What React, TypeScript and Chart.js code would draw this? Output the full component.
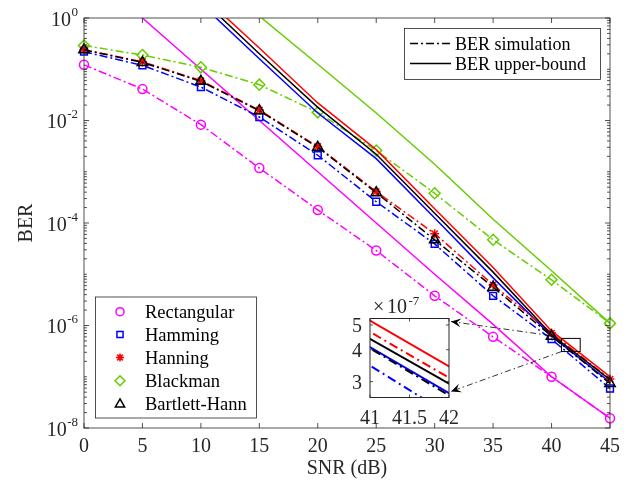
import React, { useEffect, useRef } from 'react';
import { Chart, registerables } from 'chart.js';

Chart.register(...registerables);

// ---------------- data ----------------
const snr = [0, 5, 10, 15, 20, 25, 30, 35, 40, 45];

const rectSim = [0.122, 0.041, 0.0083, 0.00118, 1.8e-4, 2.9e-5, 3.8e-6, 6.0e-7, 1.0e-7, 1.55e-8];
const rectBound = [10, 1.0, 0.1, 0.01, 1.0e-3, 1.0e-4, 1.0e-5, 1.05e-6, 1.0e-7, 1.55e-8];

const hammSim = [0.22, 0.119, 0.045, 0.0117, 0.0021, 2.6e-4, 3.9e-5, 3.8e-6, 5.4e-7, 5.9e-8];
const hammBound = [1000, 40, 1.9, 0.16, 0.014, 1.8e-3, 1.25e-4, 8.5e-6, 6.2e-7, 7.8e-8];

const hannSim = [0.24, 0.14, 0.06, 0.016, 0.0031, 4.1e-4, 6.2e-5, 6.2e-6, 7.1e-7, 9.0e-8];
const hannBound = [1500, 60, 2.9, 0.26, 0.022, 2.7e-3, 1.9e-4, 1.35e-5, 7.85e-7, 1.0e-7];

const blackSim = [0.29, 0.19, 0.109, 0.05, 0.0144, 0.0026, 3.8e-4, 4.7e-5, 7.8e-6, 1.1e-6];
const blackBound = [10000, 1000, 11, 1.09, 0.125, 0.014, 1.4e-3, 1.18e-4, 1.17e-5, 1.1e-6];

const bhSim = [0.24, 0.136, 0.058, 0.0155, 0.003, 3.9e-4, 4.7e-5, 5.6e-6, 6.2e-7, 7.4e-8];
const bhBound = [1200, 50, 2.4, 0.2, 0.018, 2.2e-3, 1.55e-4, 1.1e-5, 6.6e-7, 8.8e-8];

const xTicks = [0, 5, 10, 15, 20, 25, 30, 35, 40, 45];
const yTickExps = [0, -2, -4, -6, -8];
const insetXTicks = [41, 41.5, 42];
const insetXLabels = ['41', '41.5', '42'];
const insetYTicks = [3, 4, 5];
const insetExp = -7;

const windowNames = ['Rectangular', 'Hamming', 'Hanning', 'Blackman', 'Bartlett-Hann'];
const styleNames = ['BER simulation', 'BER upper-bound'];

// ---------------- styles ----------------
const FONT = "'Liberation Serif', 'Times New Roman', serif";
const AX = '#262626';
const DASHDOT = [8, 3, 2, 3];

type Win = { name: string; sim: number[]; bound: number[]; color: string; marker: string; r: number };
const windows: Win[] = [
  { name: windowNames[0], sim: rectSim, bound: rectBound, color: '#FF00FF', marker: 'circle', r: 4.5 },
  { name: windowNames[1], sim: hammSim, bound: hammBound, color: '#0000FF', marker: 'rect', r: 4.8 },
  { name: windowNames[2], sim: hannSim, bound: hannBound, color: '#FF0000', marker: 'star', r: 4.5 },
  { name: windowNames[3], sim: blackSim, bound: blackBound, color: '#66CC00', marker: 'rectRot', r: 5.5 },
  { name: windowNames[4], sim: bhSim, bound: bhBound, color: '#000000', marker: 'triangle', r: 6 },
];

const toPts = (ys: number[]) => ys.map((y, i) => ({ x: snr[i], y }));

function drawMarker(ctx: CanvasRenderingContext2D, style: string, x: number, y: number, r: number, color: string) {
  ctx.save();
  ctx.strokeStyle = color;
  ctx.lineWidth = 1.5;
  ctx.setLineDash([]);
  ctx.beginPath();
  if (style === 'circle') {
    ctx.arc(x, y, r, 0, Math.PI * 2);
  } else if (style === 'rect') {
    const s = r * Math.SQRT1_2;
    ctx.rect(x - s, y - s, 2 * s, 2 * s);
  } else if (style === 'star') {
    for (let i = 0; i < 4; i++) {
      const a = (i * Math.PI) / 4;
      ctx.moveTo(x - Math.cos(a) * r, y - Math.sin(a) * r);
      ctx.lineTo(x + Math.cos(a) * r, y + Math.sin(a) * r);
    }
  } else if (style === 'rectRot') {
    ctx.moveTo(x, y - r);
    ctx.lineTo(x + r, y);
    ctx.lineTo(x, y + r);
    ctx.lineTo(x - r, y);
    ctx.closePath();
  } else if (style === 'triangle') {
    ctx.moveTo(x, y - r);
    ctx.lineTo(x + 0.866 * r, y + 0.5 * r);
    ctx.lineTo(x - 0.866 * r, y + 0.5 * r);
    ctx.closePath();
  }
  ctx.stroke();
  ctx.restore();
}

function drawArrow(ctx: CanvasRenderingContext2D, x0: number, y0: number, x1: number, y1: number) {
  ctx.save();
  ctx.strokeStyle = '#000';
  ctx.fillStyle = '#000';
  ctx.lineWidth = 0.8;
  ctx.setLineDash([6, 3, 1.5, 3]);
  ctx.beginPath();
  ctx.moveTo(x0, y0);
  ctx.lineTo(x1, y1);
  ctx.stroke();
  ctx.setLineDash([]);
  const ang = Math.atan2(y1 - y0, x1 - x0);
  const L = 10, W = 4.5;
  const bx = x1 - Math.cos(ang) * L, by = y1 - Math.sin(ang) * L;
  const nx = -Math.sin(ang), ny = Math.cos(ang);
  const mx = x1 - Math.cos(ang) * L * 0.6, my = y1 - Math.sin(ang) * L * 0.6;
  ctx.beginPath();
  ctx.moveTo(x1, y1);
  ctx.lineTo(bx + nx * W, by + ny * W);
  ctx.lineTo(mx, my);
  ctx.lineTo(bx - nx * W, by - ny * W);
  ctx.closePath();
  ctx.fill();
  ctx.restore();
}

// Inset placement (page pixels)
const INSET_CANVAS = { left: 330, top: 285, width: 140, height: 145 };
const INSET_BOX = { left: 370, top: 318.5, right: 449, bottom: 397.5 };

const mainDeco = {
  id: 'mainDeco',
  afterDraw(chart: any) {
    const { ctx, chartArea: a, scales } = chart;
    const xs = scales.x, ys = scales.y;
    ctx.save();
    ctx.setLineDash([]);
    // ticks
    ctx.strokeStyle = AX;
    ctx.lineWidth = 0.8;
    ctx.beginPath();
    for (const t of xTicks) {
      const px = xs.getPixelForValue(t);
      ctx.moveTo(px, a.bottom); ctx.lineTo(px, a.bottom - 5);
      ctx.moveTo(px, a.top); ctx.lineTo(px, a.top + 5);
    }
    for (let k = -8; k <= 0; k++) {
      for (let m = 1; m <= 9; m++) {
        if (k === 0 && m > 1) break;
        const v = m * Math.pow(10, k);
        const py = ys.getPixelForValue(v);
        const major = m === 1 && k % 2 === 0;
        const len = major ? 5 : 3;
        ctx.moveTo(a.left, py); ctx.lineTo(a.left + len, py);
        ctx.moveTo(a.right, py); ctx.lineTo(a.right - len, py);
      }
    }
    ctx.stroke();
    ctx.strokeRect(a.left, a.top, a.right - a.left, a.bottom - a.top);

    // x tick labels
    ctx.fillStyle = AX;
    ctx.font = `20px ${FONT}`;
    ctx.textAlign = 'center';
    ctx.textBaseline = 'alphabetic';
    for (const t of xTicks) ctx.fillText(String(t), xs.getPixelForValue(t), 452);

    // y tick labels 10^k
    for (const e of yTickExps) {
      const py = ys.getPixelForValue(Math.pow(10, e));
      const expStr = String(e);
      ctx.font = `13px ${FONT}`;
      const ew = ctx.measureText(expStr).width;
      const right = 78;
      ctx.textAlign = 'left';
      ctx.fillText(expStr, right - ew, py - 2.5);
      ctx.font = `20px ${FONT}`;
      ctx.textAlign = 'right';
      ctx.fillText('10', right - ew - 0.5, py + 7.5);
    }

    // axis titles
    ctx.font = `20px ${FONT}`;
    ctx.textAlign = 'center';
    ctx.fillText('SNR (dB)', (a.left + a.right) / 2, 474);
    ctx.save();
    ctx.translate(27, (a.top + a.bottom) / 2);
    ctx.rotate(-Math.PI / 2);
    ctx.textBaseline = 'middle';
    ctx.fillText('BER', 0, 0);
    ctx.restore();

    // zoom rectangle and arrows
    const rx0 = xs.getPixelForValue(40.85), rx1 = xs.getPixelForValue(42.45);
    const ry0 = ys.getPixelForValue(5.6e-7), ry1 = ys.getPixelForValue(3.1e-7);
    ctx.strokeStyle = '#000';
    ctx.lineWidth = 1;
    ctx.strokeRect(rx0, ry0, rx1 - rx0, ry1 - ry0);
    drawArrow(ctx, rx0 - 12, ry0 - 3, INSET_BOX.right + 2, INSET_BOX.top + 3);
    drawArrow(ctx, rx0, ry1, INSET_BOX.right + 2, INSET_BOX.bottom - 6);

    // legend 1 (line styles)
    ctx.fillStyle = '#fff';
    ctx.fillRect(404.5, 28.5, 196, 51);
    ctx.strokeStyle = AX;
    ctx.lineWidth = 0.8;
    ctx.strokeRect(404.5, 28.5, 196, 51);
    const rows1 = [43.5, 63.5];
    ctx.font = `18px ${FONT}`;
    ctx.textAlign = 'left';
    ctx.fillStyle = '#000';
    rows1.forEach((yy, i) => {
      ctx.strokeStyle = '#000';
      ctx.lineWidth = 1.5;
      ctx.setLineDash(i === 0 ? DASHDOT : []);
      ctx.beginPath();
      ctx.moveTo(410, yy);
      ctx.lineTo(451, yy);
      ctx.stroke();
      ctx.setLineDash([]);
      ctx.fillText(styleNames[i], 455, yy + 6);
    });

    // legend 2 (markers)
    ctx.fillStyle = '#fff';
    ctx.fillRect(95.5, 297, 161, 121);
    ctx.strokeStyle = AX;
    ctx.lineWidth = 0.8;
    ctx.strokeRect(95.5, 297, 161, 121);
    const rows2 = [311.7, 334.5, 357.5, 380.8, 404.3];
    ctx.font = `18.5px ${FONT}`;
    windows.forEach((w, i) => {
      drawMarker(ctx, w.marker, 120, rows2[i], w.r * 0.9, w.color);
      ctx.fillStyle = '#000';
      ctx.fillText(w.name, 145, rows2[i] + 6);
    });
    ctx.restore();
  },
};

const insetDeco = {
  id: 'insetDeco',
  beforeDatasetsDraw(chart: any) {
    const { ctx, chartArea: a } = chart;
    ctx.save();
    ctx.fillStyle = '#fff';
    ctx.fillRect(a.left, a.top, a.right - a.left, a.bottom - a.top);
    ctx.restore();
  },
  afterDraw(chart: any) {
    const { ctx, chartArea: a, scales } = chart;
    const xs = scales.x, ys = scales.y;
    ctx.save();
    ctx.setLineDash([]);
    ctx.strokeStyle = AX;
    ctx.lineWidth = 0.8;
    ctx.beginPath();
    for (const t of insetXTicks) {
      const px = xs.getPixelForValue(t);
      ctx.moveTo(px, a.bottom); ctx.lineTo(px, a.bottom - 3);
      ctx.moveTo(px, a.top); ctx.lineTo(px, a.top + 3);
    }
    for (const t of insetYTicks) {
      const py = ys.getPixelForValue(t * Math.pow(10, insetExp));
      ctx.moveTo(a.left, py); ctx.lineTo(a.left + 3, py);
      ctx.moveTo(a.right, py); ctx.lineTo(a.right - 3, py);
    }
    ctx.stroke();
    ctx.lineWidth = 1;
    ctx.strokeRect(a.left, a.top, a.right - a.left, a.bottom - a.top);

    ctx.fillStyle = AX;
    ctx.font = `20px ${FONT}`;
    ctx.textAlign = 'right';
    for (const t of insetYTicks) {
      const py = ys.getPixelForValue(t * Math.pow(10, insetExp));
      ctx.fillText(String(t), a.left - 8, py + 7);
    }
    ctx.textAlign = 'center';
    insetXTicks.forEach((t, i) => {
      ctx.fillText(insetXLabels[i], xs.getPixelForValue(t), a.bottom + 26);
    });
    // x10^-7
    ctx.textAlign = 'left';
    ctx.fillText('\u00d7', a.left + 3, a.top - 5.5);
    ctx.fillText('10', a.left + 17, a.top - 5.5);
    ctx.font = `13px ${FONT}`;
    ctx.fillText(String(insetExp), a.left + 38.5, a.top - 13.5);
    ctx.restore();
  },
};

function buildDatasets(inset: boolean) {
  const ds: any[] = [];
  const order = [4, 2, 1, 3, 0]; // BH drawn on top, then Hanning, etc.
  for (const idx of order) {
    const w = windows[idx];
    ds.push({
      label: w.name + ' sim',
      data: toPts(w.sim),
      borderColor: w.color,
      backgroundColor: 'rgba(0,0,0,0)',
      borderWidth: inset ? 2 : 1.5,
      borderDash: inset ? [9, 4, 2, 4] : DASHDOT,
      pointStyle: w.marker,
      pointRadius: inset ? 0 : w.r,
      pointBorderWidth: 1.5,
      pointBorderColor: w.color,
      pointBackgroundColor: 'rgba(0,0,0,0)',
      fill: false,
      tension: 0,
      clip: inset ? 0 : { left: 12, top: 0, right: 12, bottom: 12 },
    });
    ds.push({
      label: w.name + ' bound',
      data: toPts(w.bound),
      borderColor: w.color,
      backgroundColor: 'rgba(0,0,0,0)',
      borderWidth: inset ? 2 : 1.5,
      pointRadius: 0,
      fill: false,
      tension: 0,
      clip: 0,
    });
  }
  return ds;
}

export default function App() {
  const mainRef = useRef<HTMLCanvasElement>(null);
  const insetRef = useRef<HTMLCanvasElement>(null);

  useEffect(() => {
    const main = new Chart(mainRef.current as HTMLCanvasElement, {
      type: 'line',
      data: { datasets: buildDatasets(false) },
      options: {
        animation: false,
        responsive: false,
        events: [],
        layout: { padding: { left: 84, top: 18, right: 24, bottom: 60 } },
        plugins: { legend: { display: false }, tooltip: { enabled: false }, title: { display: false } },
        scales: {
          x: { type: 'linear', min: 0, max: 45, display: false },
          y: { type: 'logarithmic', min: 1e-8, max: 1, display: false },
        },
      } as any,
      plugins: [mainDeco],
    });

    const ia = INSET_CANVAS, ib = INSET_BOX;
    const inset = new Chart(insetRef.current as HTMLCanvasElement, {
      type: 'line',
      data: { datasets: buildDatasets(true) },
      options: {
        animation: false,
        responsive: false,
        events: [],
        layout: {
          padding: {
            left: ib.left - ia.left,
            top: ib.top - ia.top,
            right: ia.left + ia.width - ib.right,
            bottom: ia.top + ia.height - ib.bottom,
          },
        },
        plugins: { legend: { display: false }, tooltip: { enabled: false }, title: { display: false } },
        scales: {
          x: { type: 'linear', min: 41, max: 42, display: false },
          y: { type: 'logarithmic', min: 2.6e-7, max: 5.3e-7, display: false },
        },
      } as any,
      plugins: [insetDeco],
    });

    return () => {
      main.destroy();
      inset.destroy();
    };
  }, []);

  return (
    <div style={{ position: 'absolute', left: 0, top: 0, width: 634, height: 488, background: '#fff' }}>
      <canvas ref={mainRef} width={634} height={488} style={{ position: 'absolute', left: 0, top: 0 }} />
      <canvas
        ref={insetRef}
        width={INSET_CANVAS.width}
        height={INSET_CANVAS.height}
        style={{ position: 'absolute', left: INSET_CANVAS.left, top: INSET_CANVAS.top }}
      />
    </div>
  );
}
